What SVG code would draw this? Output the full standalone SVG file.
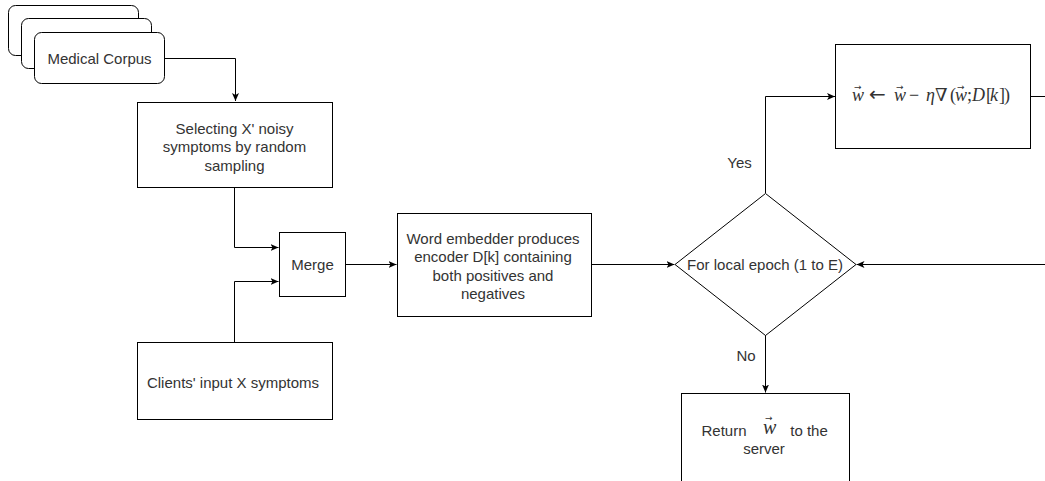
<svg xmlns="http://www.w3.org/2000/svg" width="1045" height="481" viewBox="0 0 1045 481">
<style>
.box{fill:#fff;stroke:#000;stroke-width:1}
.ln{fill:none;stroke:#000;stroke-width:1}
.t{font-family:"Liberation Sans",Arial,sans-serif;font-size:15px;fill:#333;text-anchor:middle;dominant-baseline:central}
.m{font-family:"Liberation Serif","DejaVu Serif",serif;font-size:18px;fill:#333}
.i{font-style:italic}
.ar{font-family:"DejaVu Sans",sans-serif;font-size:9px;font-style:normal}
</style>
<defs>
<marker id="arr" markerUnits="userSpaceOnUse" markerWidth="10" markerHeight="8" refX="8" refY="4" orient="auto">
<path d="M0,0.5 L8,4 L0,7.5 L2,4 z" fill="#000"/>
</marker>
</defs>
<rect width="1045" height="481" fill="#fff"/>
<g id="connectors">
<path class="ln" d="M164.5,58.5 H235.5 V101" marker-end="url(#arr)"/>
<path class="ln" d="M234.5,187 V247.5 H278.5" marker-end="url(#arr)"/>
<path class="ln" d="M234.5,342 V281.5 H278.5" marker-end="url(#arr)"/>
<path class="ln" d="M345,264.5 H396.5" marker-end="url(#arr)"/>
<path class="ln" d="M591,264.5 H674.5" marker-end="url(#arr)"/>
<path class="ln" d="M765.5,193 V96.5 H835" marker-end="url(#arr)"/>
<path class="ln" d="M1030,96.5 H1045"/>
<path class="ln" d="M1045,264.5 H856.5" marker-end="url(#arr)"/>
<path class="ln" d="M765.5,335 V392.5" marker-end="url(#arr)"/>
<text class="t" x="739.5" y="162">Yes</text>
<text class="t" x="746" y="355">No</text>
</g>
<g id="medical-corpus">
<rect class="box" x="8.5" y="5.5" width="130" height="50" rx="7"/>
<rect class="box" x="21.5" y="18.5" width="130" height="50" rx="7"/>
<rect class="box" x="34.5" y="32.5" width="130" height="51" rx="7"/>
<text class="t" x="99.5" y="58">Medical Corpus</text>
</g>
<g id="selecting">
<rect class="box" x="137.5" y="102.5" width="195" height="85"/>
<text class="t" x="234.5" y="128">Selecting X' noisy</text>
<text class="t" x="234.5" y="146.5">symptoms by random</text>
<text class="t" x="234.5" y="165">sampling</text>
</g>
<g id="merge">
<rect class="box" x="279.5" y="232.5" width="66" height="64"/>
<text class="t" x="312.5" y="264">Merge</text>
</g>
<g id="clients">
<rect class="box" x="137.5" y="342.5" width="195" height="77"/>
<text class="t" x="233" y="382">Clients' input X symptoms</text>
</g>
<g id="word-embedder">
<rect class="box" x="397.5" y="213.5" width="194" height="103"/>
<text class="t" x="493" y="238">Word embedder produces</text>
<text class="t" x="493" y="256.5">encoder D[k] containing</text>
<text class="t" x="493" y="275">both positives and</text>
<text class="t" x="493" y="293.5">negatives</text>
</g>
<g id="local-epoch">
<polygon class="box" points="765.5,193.5 856,264.5 765.5,335.5 675,264.5"/>
<text class="t" x="765" y="264">For local epoch (1 to E)</text>
</g>
<g id="update">
<rect class="box" x="835.5" y="44.5" width="195" height="104"/>
<text class="m" y="101"><tspan class="i" x="852">w</tspan><tspan class="ar" x="854" dy="-11">→</tspan><tspan x="869" dy="11" font-family="DejaVu Sans" font-size="20">←</tspan><tspan class="i" x="894">w</tspan><tspan class="ar" x="896" dy="-11">→</tspan><tspan x="909" dy="11">−</tspan><tspan class="i" x="926">η</tspan><tspan x="935">∇</tspan><tspan x="950">(</tspan><tspan class="i" x="955">w</tspan><tspan class="ar" x="957" dy="-11">→</tspan><tspan x="967" dy="11">;</tspan><tspan class="i" x="972">D</tspan><tspan x="986">[</tspan><tspan class="i" x="990">k</tspan><tspan x="999">]</tspan><tspan x="1004">)</tspan></text>
</g>
<g id="return">
<rect class="box" x="681.5" y="393.5" width="168" height="100"/>
<text class="t" x="724" y="430">Return</text>
<text class="m" y="434"><tspan class="i" x="763" font-size="20">w</tspan><tspan class="ar" x="765" dy="-13" font-size="10">→</tspan></text>
<text class="t" x="809" y="430">to the</text>
<text class="t" x="764" y="448.5">server</text>
</g>
</svg>
